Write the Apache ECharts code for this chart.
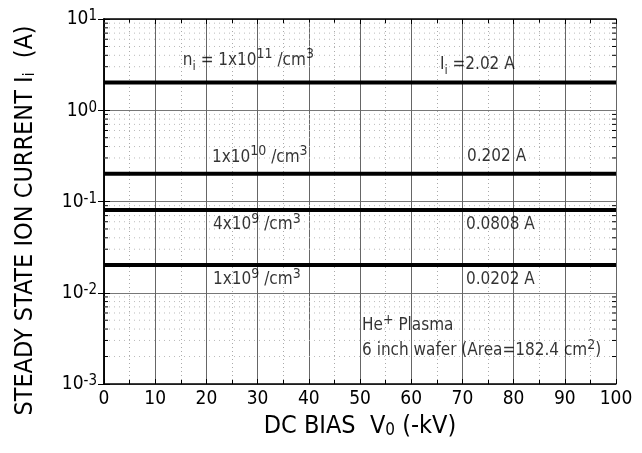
<!DOCTYPE html>
<html>
<head>
<meta charset="utf-8">
<script src="https://cdn.jsdelivr.net/npm/echarts@6/dist/echarts.min.js"></script>
<style>
  html, body { margin: 0; padding: 0; background: #fff; }
  #chart { width: 642px; height: 453px; }
</style>
</head>
<body>
<div id="chart"></div>
<script>
// data
const currents = [2.02, 0.202, 0.0808, 0.0202];
const densityLabels = [
    'n{sub|i} = 1x10{sup|11} /cm{sup|3}',
    '1x10{sup|10} /cm{sup|3}',
    '4x10{sup|9} /cm{sup|3}',
    '1x10{sup|9} /cm{sup|3}'
];
const currentLabels = ['I{sub|i} =2.02 A', '0.202 A', '0.0808 A', '0.0202 A'];
const noteLines = ['He{sup|+} Plasma', '6 inch wafer (Area=182.4 cm{sup|2})'];
const yDecades = [0.001, 0.01, 0.1, 1];
const minorSteps = [2, 3, 4, 5, 6, 7, 8, 9];

const FONT = "'Liberation Sans Narrow', 'DejaVu Sans Condensed', 'Liberation Sans', sans-serif";

const rich = {
    sup: {fontSize: 14, fontFamily: FONT, color: '#000', verticalAlign: 'top', lineHeight: 14},
    sub: {fontSize: 13, fontFamily: FONT, color: '#000', verticalAlign: 'bottom', lineHeight: 18}
};

const minorY = [];
yDecades.forEach(d => minorSteps.forEach(m => minorY.push([0, d * m])));

// label layout: [x on axis, vertical offset]
const densityPos = [[15.4, -22], [21.1, -16], [21.3, 15], [21.3, 15]];
const currentPos = [[65.6, -18], [70.9, -17], [70.7, 15], [70.7, 15]];

const labelData = [];
currents.forEach((c, i) => {
    labelData.push({value: [densityPos[i][0], c], label: {formatter: densityLabels[i], offset: [0, densityPos[i][1]]}});
    labelData.push({value: [currentPos[i][0], c], label: {formatter: currentLabels[i], offset: [0, currentPos[i][1]]}});
});
noteLines.forEach((t, i) => {
    labelData.push({value: [50.4, currents[3]], label: {formatter: t, offset: [0, 61 + i * 25]}});
});

const lineSeries = currents.map(c => ({
    type: 'line',
    xAxisIndex: 0,
    yAxisIndex: 0,
    data: [[0, c], [100, c]],
    symbol: 'none',
    lineStyle: {color: '#000', width: 4},
    z: 5,
    silent: true
}));

const expLabel = v => {
    const e = Math.round(Math.log10(v));
    return '{b|10}{e|' + e + '}';
};

const option = {
    animation: false,
    backgroundColor: '#fff',
    grid: {left: 104, right: 26, top: 19, bottom: 69, containLabel: false},
    xAxis: [
        {
            type: 'value', min: 0, max: 100, interval: 10, position: 'bottom',
            name: 'DC BIAS  V{sub|0} (-kV)', nameLocation: 'middle', nameGap: 30,
            nameTextStyle: {
                fontFamily: FONT, fontSize: 25, color: '#000',
                rich: {sub: {fontSize: 17, fontFamily: FONT, color: '#000', verticalAlign: 'bottom', lineHeight: 16}}
            },
            axisLine: {lineStyle: {color: '#000', width: 1.5}},
            axisTick: {inside: true, length: 5, lineStyle: {color: '#000'}},
            minorTick: {show: true, splitNumber: 2, length: 4, lineStyle: {color: '#000'}},
            axisLabel: {fontFamily: FONT, fontSize: 19, color: '#000', margin: 6},
            splitLine: {show: true, lineStyle: {color: '#666', width: 1}},
            minorSplitLine: {show: true, lineStyle: {color: '#aaa', type: [1, 3]}}
        },
        {
            type: 'value', min: 0, max: 100, interval: 10, position: 'top',
            axisLine: {show: true, lineStyle: {color: '#000', width: 1.5}},
            axisTick: {inside: true, length: 5, lineStyle: {color: '#000'}},
            minorTick: {show: true, splitNumber: 2, length: 4, lineStyle: {color: '#000'}},
            axisLabel: {show: false},
            splitLine: {show: false}
        }
    ],
    yAxis: [
        {
            type: 'log', logBase: 10, min: 0.001, max: 10, position: 'left',
            name: 'STEADY STATE ION CURRENT I{sub|i}  (A)', nameLocation: 'middle', nameGap: 66,
            nameTextStyle: {
                fontFamily: FONT, fontSize: 25, color: '#000', padding: [0, 38, 0, 0],
                rich: {sub: {fontSize: 15, fontFamily: FONT, color: '#000', verticalAlign: 'bottom', lineHeight: 16}}
            },
            axisLine: {show: true, lineStyle: {color: '#000', width: 1.5}},
            axisTick: {inside: true, length: 6, lineStyle: {color: '#000'}},
            axisLabel: {
                margin: 7,
                formatter: expLabel,
                rich: {
                    b: {fontFamily: FONT, fontSize: 19, color: '#000', lineHeight: 20, verticalAlign: 'bottom'},
                    e: {fontFamily: FONT, fontSize: 15, color: '#000', lineHeight: 20, verticalAlign: 'top', padding: [0, 0, 6, 0]}
                }
            },
            splitLine: {show: true, lineStyle: {color: '#777', width: 1}}
        },
        {
            type: 'log', logBase: 10, min: 0.001, max: 10, position: 'right',
            axisLine: {show: true, lineStyle: {color: '#000', width: 1.5}},
            axisTick: {inside: true, length: 6, lineStyle: {color: '#000'}},
            axisLabel: {show: false},
            splitLine: {show: false}
        }
    ],
    series: [
        {
            type: 'custom',
            name: 'minor grid',
            xAxisIndex: 0,
            yAxisIndex: 0,
            data: minorY,
            silent: true,
            z: 1,
            renderItem(params, api) {
                const cs = params.coordSys;
                const y = api.coord([0, api.value(1)])[1];
                return {
                    type: 'group',
                    children: [
                        {type: 'line', shape: {x1: cs.x, y1: y, x2: cs.x + cs.width, y2: y},
                            style: {stroke: '#bbb', lineWidth: 1, lineDash: [1, 4]}},
                        {type: 'line', shape: {x1: cs.x, y1: y, x2: cs.x + 4, y2: y},
                            style: {stroke: '#000', lineWidth: 1}},
                        {type: 'line', shape: {x1: cs.x + cs.width - 4, y1: y, x2: cs.x + cs.width, y2: y},
                            style: {stroke: '#000', lineWidth: 1}}
                    ]
                };
            }
        },
        ...lineSeries,
        {
            type: 'scatter',
            name: 'labels',
            xAxisIndex: 0,
            yAxisIndex: 0,
            symbolSize: 0.01,
            silent: true,
            z: 6,
            data: labelData,
            label: {
                show: true,
                position: 'right',
                distance: 0,
                fontFamily: FONT,
                fontSize: 17,
                lineHeight: 26,
                color: '#000',
                textBorderWidth: 0,
                rich: rich
            }
        }
    ]
};

const myChart = echarts.init(document.getElementById('chart'), null, {renderer: 'canvas'});
myChart.setOption(option);
</script>
</body>
</html>
